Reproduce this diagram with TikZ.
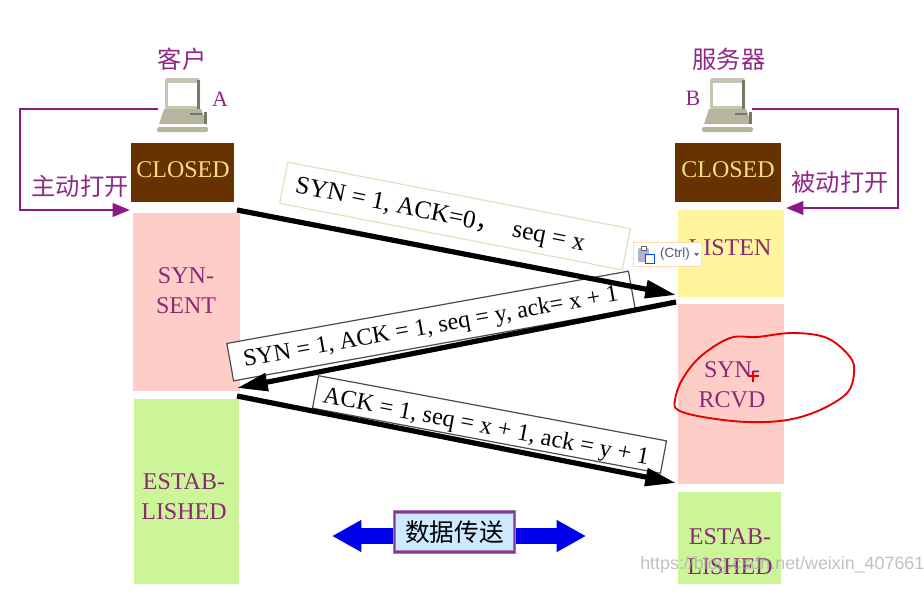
\documentclass[tikz,border=0pt]{standalone}
\usepackage{fontspec}
\setmainfont{Liberation Serif}
\newfontfamily\cjk{Noto Sans CJK SC}
\newfontfamily\wmfont{Liberation Sans}
\usetikzlibrary{arrows.meta}
\definecolor{lblpurple}{HTML}{8E2A86}
\definecolor{stateink}{HTML}{8A2A72}
\definecolor{brownbox}{HTML}{663300}
\definecolor{closedink}{HTML}{F6DC80}
\definecolor{pinkbox}{HTML}{FFCDC8}
\definecolor{yellowbox}{HTML}{FFF59C}
\definecolor{greenbox}{HTML}{CCF59A}
\definecolor{pcbody}{HTML}{B6B69E}
\definecolor{pcdark}{HTML}{77776A}
\definecolor{linepurple}{HTML}{8B1A86}
\definecolor{databorder}{HTML}{B070B8}
\definecolor{datainner}{HTML}{7E3A90}
\definecolor{datafill}{HTML}{CDE9FF}
\tikzset{
  statebox/.style={inner sep=0pt,outer sep=0pt,anchor=north west},
  statetext/.style={text=stateink,align=center,inner sep=0pt,font=\fontsize{18}{22.5}\selectfont},
  closedtext/.style={text=closedink,inner sep=0pt,font=\fontsize{18}{22}\selectfont},
  cjklabel/.style={text=lblpurple,inner sep=0pt,font=\cjk\fontsize{18.2}{22}\selectfont},
  letterlabel/.style={text=lblpurple,inner sep=0pt,font=\fontsize{16.5}{20}\selectfont},
  msgbox/.style={draw,fill=white,inner sep=0pt,line width=.9pt},
  msgtext/.style={inner sep=0pt,text=black},
  msgarrow/.style={line width=3.9pt,-{Triangle[length=23pt,width=13pt]}},
  openarrow/.style={line width=2.2pt,color=linepurple,-{Triangle[length=13pt,width=10pt]}},
  pics/computer/.style={code={
    \fill[pcbody!80!white,rounded corners=2pt] (7,0) rectangle (42,32);
    \fill[pcdark] (39,2) rectangle (42,32);
    \fill[white] (10,5) rectangle (39,28);
    \fill[pcbody] (1,46) -- (6,31) -- (43,31) -- (49,46) -- cycle;
    \fill[pcdark] (46,34) rectangle (49,46);
    \draw[pcdark,line width=.9pt] (32,36) -- (44,36);
    \fill[pcbody,rounded corners=1.5pt] (-1,49) rectangle (50,54);
  }}
}
\begin{document}
\begin{tikzpicture}[x=.75pt,y=-.75pt]
\useasboundingbox (0,0) rectangle (924,604);
% state boxes
\node[statebox,fill=brownbox,minimum width=77.25pt,minimum height=44.25pt] (closedA) at (131,143) {};
\node[statebox,fill=pinkbox,minimum width=80.25pt,minimum height=133.5pt] (sent) at (133,213) {};
\node[statebox,fill=greenbox,minimum width=78.75pt,minimum height=138.75pt] (estA) at (134,399) {};
\node[statebox,fill=brownbox,minimum width=79.5pt,minimum height=44.25pt] (closedB) at (675,143) {};
\node[statebox,fill=yellowbox,minimum width=79.5pt,minimum height=65.25pt] (listen) at (678,210) {};
\node[statebox,fill=pinkbox,minimum width=79.5pt,minimum height=135pt] (rcvd) at (678,304) {};
\node[statebox,fill=greenbox,minimum width=77.25pt,minimum height=69pt] (estB) at (678,492) {};
% state labels
\node[closedtext] (tClosedA) at (183,170) {CLOSED};
\node[closedtext] (tClosedB) at (728,170) {CLOSED};
\node[statetext] (tSent) at (186,291) {SYN-\\SENT};
\node[statetext] (tEstA) at (184,497) {ESTAB-\\LISHED};
\node[statetext] (tListen) at (730,248) {LISTEN};
\node[statetext] (tRcvd) at (732,385) {SYN-\\RCVD};
\node[statetext] (tEstB) at (730,552) {ESTAB-\\LISHED};
% computers
\pic at (158,78) {computer};
\pic at (703,78) {computer};
\node[cjklabel] (client) at (182,59) {客户};
\node[cjklabel] (server) at (729,59) {服务器};
\node[letterlabel] (letA) at (220,99) {A};
\node[letterlabel] (letB) at (693,98) {B};
% open arrows
\coordinate (pcAport) at (158,109);
\coordinate (pcBport) at (752,109);
\coordinate (openA) at (130,210);
\coordinate (openB) at (786,208);
\draw[openarrow] (pcAport) -- (20,109) -- (20,210) -- (openA);
\draw[openarrow] (pcBport) -- (898,109) -- (898,208) -- (openB);
\node[cjklabel] (active) at (80,186) {主动打开};
\node[cjklabel] (passive) at (840,182) {被动打开};
% messages
\node[msgbox,draw=black!15!white!85!yellow,rotate=-11,minimum width=261.75pt,minimum height=31.5pt] (m1) at (455,216) {};
\node[msgtext,rotate=-11.4,font=\fontsize{19}{22}\selectfont] (t1) at (440,216) {SYN = 1, ACK=0{\cjk ，}\ \ seq = x};
\node[msgbox,draw=black!70,rotate=10.2,minimum width=306pt,minimum height=28.5pt] (m2) at (431,326) {};
\node[msgtext,rotate=10,font=\fontsize{18}{22}\selectfont] (t2) at (431,328) {SYN = 1, ACK = 1, seq = y, ack= x + 1};
\node[msgbox,draw=black!70,rotate=-10.6,minimum width=265.5pt,minimum height=24.75pt] (m3) at (489.5,424.5) {};
\node[msgtext,rotate=-10.8,font=\fontsize{18.2}{22}\selectfont] (t3) at (486,428) {ACK = 1, seq = x + 1, ack = y + 1};
\coordinate (a1s) at (237,210);
\coordinate (a1e) at (676,295);
\coordinate (a2s) at (676,302);
\coordinate (a2e) at (237,388);
\coordinate (a3s) at (237,396);
\coordinate (a3e) at (676,483);
\draw[msgarrow] (a1s) -- (a1e);
\draw[msgarrow] (a2s) -- (a2e);
\draw[msgarrow] (a3s) -- (a3e);
% data transfer
\coordinate (dL) at (332,536);
\coordinate (dR) at (586,536);
\draw[line width=12pt,color=blue!92!black,{Triangle[length=22pt,width=22.5pt]}-{Triangle[length=22pt,width=22.5pt]}] (dL) -- (dR);
\node[draw=databorder,double=datainner,fill=datafill,line width=.9pt,double distance=.8pt,inner sep=0pt,minimum width=90pt,minimum height=30pt,font=\cjk\fontsize{18.5}{22}\selectfont] (data) at (454.5,532) {数据传送};
% paste popup
\node[draw=orange!30!white,fill=white,line width=.8pt,inner sep=0pt,minimum width=51pt,minimum height=18pt,anchor=north west] (popup) at (633,242) {};
\fill[black!55!blue!30!white,rounded corners=1pt] (638,248) rectangle (649,262);
\fill[white,draw=black!60,line width=.5pt] (641,246) rectangle (646,250);
\fill[white,draw=blue!70!cyan,line width=.7pt] (645,254) rectangle (654,263);
\node[inner sep=0pt,text=black!55!blue!35!gray,font=\wmfont\fontsize{10}{12}\selectfont] (ctrl) at (675,254) {(Ctrl)};
\fill[black!60] (694,253) -- (699,253) -- (696.5,256) -- cycle;
% red ink
\draw[red!90!black,line width=1.4pt] plot[smooth cycle,tension=.6] coordinates {(675,400) (682,380) (700,357) (730,338) (757,337) (793,333) (827,338) (850,357) (854,373) (847,393) (820,410) (787,420) (747,422) (703,417) (678,410)};
\draw[red!90!black,line width=1.2pt] (748,376) -- (759,376) (753,371) -- (753,382);
% watermark
\node[anchor=west,inner sep=0pt,text=gray!70,opacity=.7,font=\wmfont\fontsize{13.4}{16}\selectfont] (wm) at (640,565) {https://blog.csdn.net/weixin\_407661};
\end{tikzpicture}
\end{document}
